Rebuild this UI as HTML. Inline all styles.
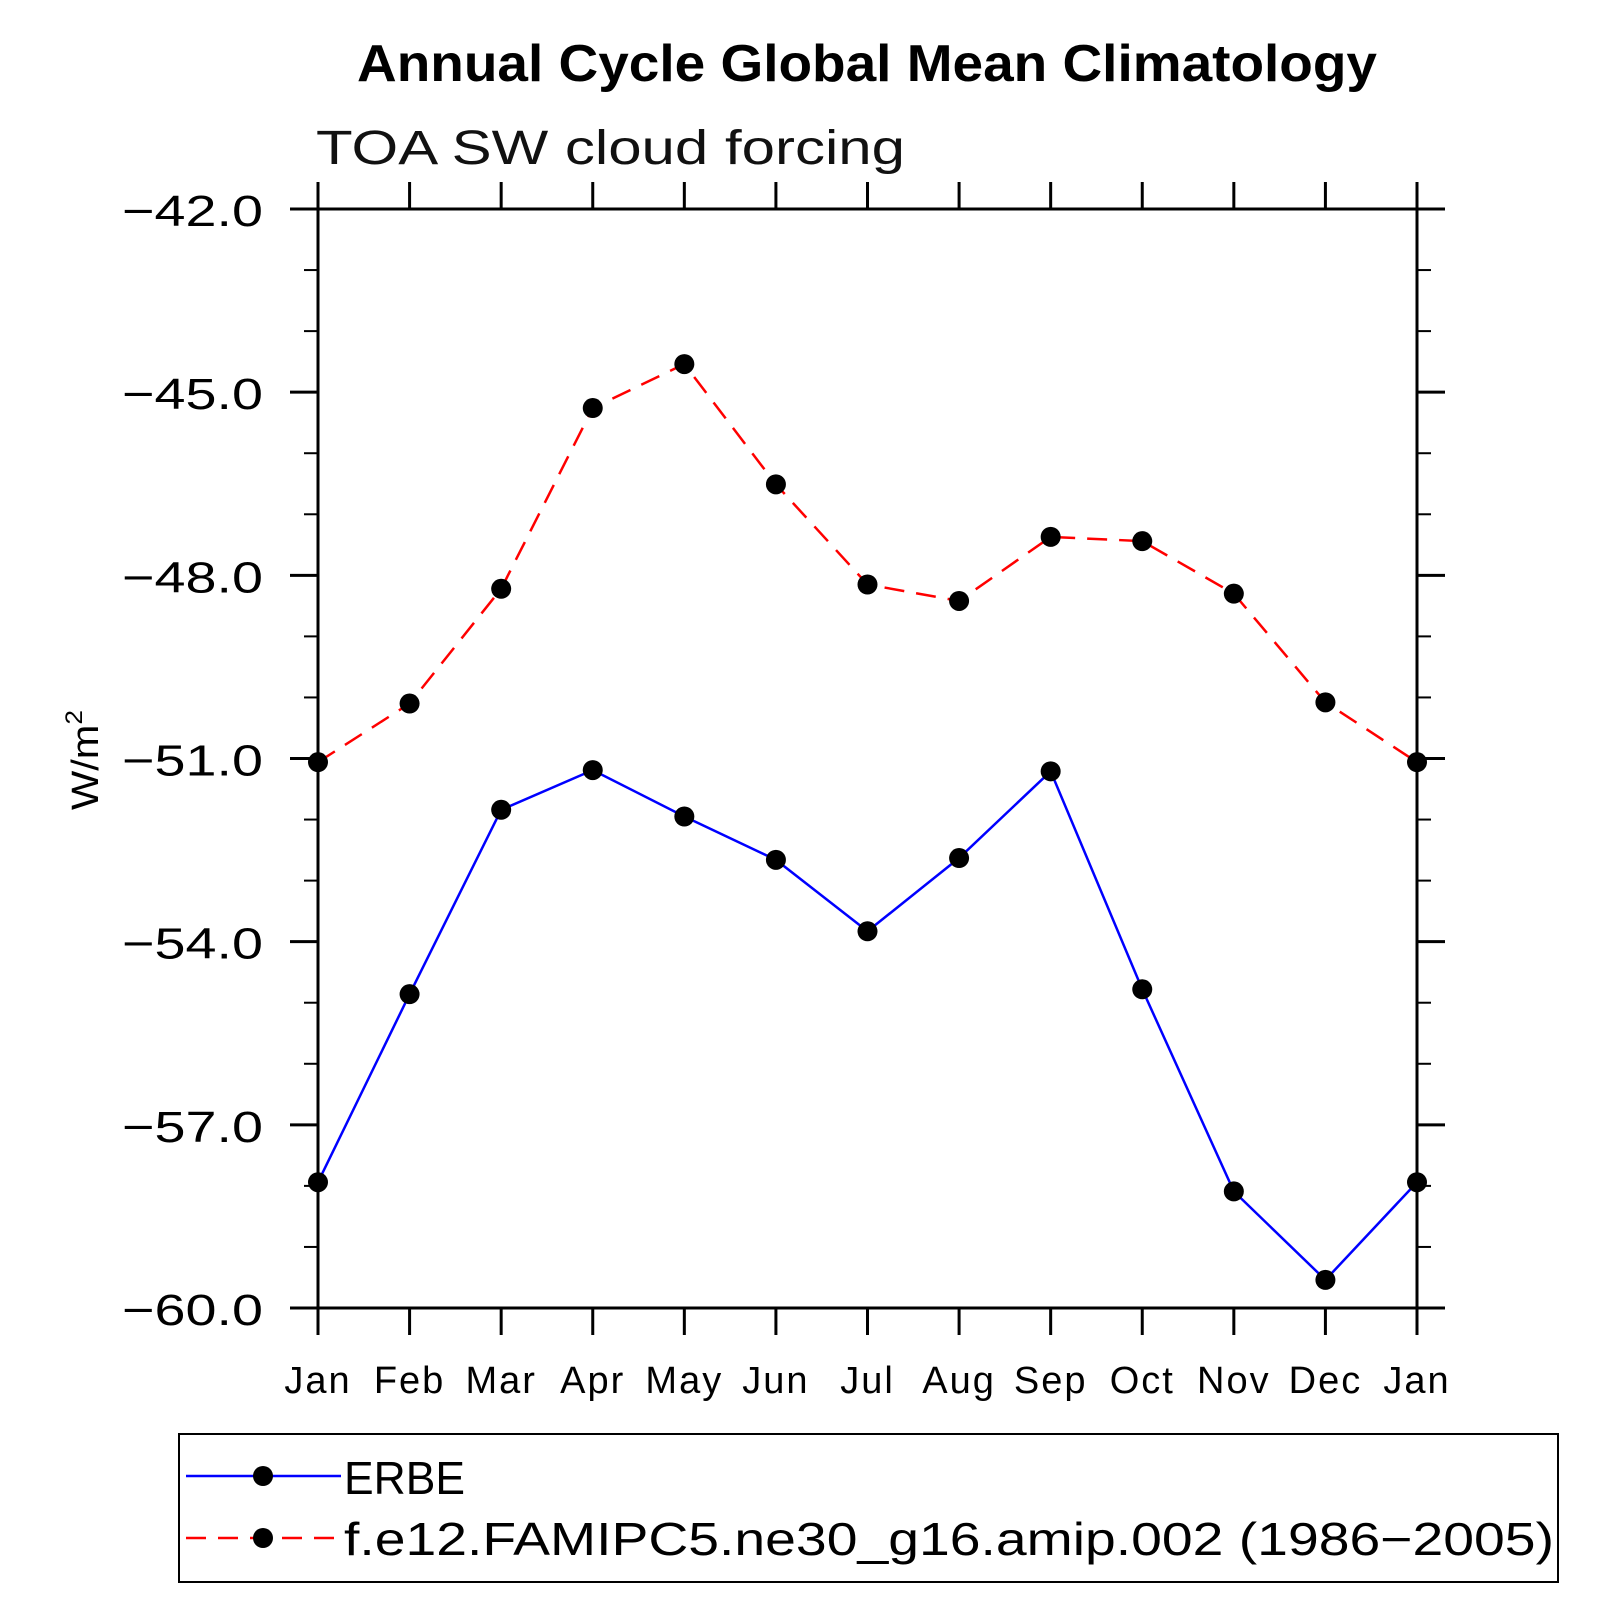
<!DOCTYPE html>
<html><head><meta charset="utf-8"><style>
html,body{margin:0;padding:0;background:#fff;}
svg{display:block;font-family:"Liberation Sans",sans-serif;}
</style></head><body>
<svg id="chart" width="1619" height="1619" viewBox="0 0 1619 1619">
<text x="357" y="81" textLength="1020" lengthAdjust="spacingAndGlyphs" font-size="52" font-weight="bold">Annual Cycle Global Mean Climatology</text>
<text x="316" y="164" textLength="589" lengthAdjust="spacingAndGlyphs" font-size="48" fill="#111">TOA SW cloud forcing</text>
<text transform="translate(98,760) rotate(-90)" text-anchor="middle" font-size="38" textLength="100" lengthAdjust="spacingAndGlyphs">W/m<tspan dy="-16" font-size="24">2</tspan></text>
<g id="axes"></g>
<g id="series"></g>
<rect x="179" y="1434" width="1379" height="148" fill="none" stroke="#000" stroke-width="2"/>
<g>
<line x1="186" y1="1476" x2="341" y2="1476" stroke="#0000ff" stroke-width="2.5"/>
<circle cx="263" cy="1476" r="10"/>
<text x="344" y="1494" font-size="46" textLength="121" lengthAdjust="spacingAndGlyphs">ERBE</text>
</g>
<g>
<line x1="186" y1="1538" x2="341" y2="1538" stroke="#ff0000" stroke-width="2.5" stroke-dasharray="20,12"/>
<circle cx="263" cy="1538" r="10"/>
<text x="344" y="1555" font-size="46" textLength="1210" lengthAdjust="spacingAndGlyphs">f.e12.FAMIPC5.ne30_g16.amip.002 (1986−2005)</text>
</g>
</svg>
<script>
const months = ["Jan","Feb","Mar","Apr","May","Jun","Jul","Aug","Sep","Oct","Nov","Dec","Jan"];
const yTicks = [-42,-45,-48,-51,-54,-57,-60];
const yTickLabels = ["−42.0","−45.0","−48.0","−51.0","−54.0","−57.0","−60.0"];
const erbe = [-57.94,-54.86,-51.84,-51.19,-51.95,-52.66,-53.83,-52.63,-51.21,-54.78,-58.09,-59.54,-57.94];
const model = [-51.06,-50.10,-48.22,-45.26,-44.54,-46.51,-48.15,-48.42,-47.37,-47.44,-48.30,-50.08,-51.06];
const NS="http://www.w3.org/2000/svg";
const L=318,R=1417,T=209,B=1308,yMin=-60,yMax=-42;
function xPos(i){return L+(R-L)*i/(months.length-1);}
function yPos(v){return B-(v-yMin)/(yMax-yMin)*(B-T);}
function mk(tag,attrs,parent){const e=document.createElementNS(NS,tag);for(const k in attrs)e.setAttribute(k,attrs[k]);parent.appendChild(e);return e;}
const ax=document.getElementById('axes');
const frame=mk('rect',{x:L,y:T,width:R-L,height:B-T,fill:'none',stroke:'#000','stroke-width':3},ax);


for(let v=yMin;v<=yMax;v+=1){
  const y=yPos(v);const major=(v%3===0);const len=major?28:14;
  mk('line',{x1:L-len,y1:y,x2:L,y2:y,stroke:'#000','stroke-width':major?3:2},ax);
  mk('line',{x1:R,y1:y,x2:R+len,y2:y,stroke:'#000','stroke-width':major?3:2},ax);
}
yTicks.forEach((v,i)=>{
  const t=mk('text',{x:263,y:yPos(v)+17,'text-anchor':'end','font-size':44,textLength:141,lengthAdjust:'spacingAndGlyphs'},ax);
  t.textContent=yTickLabels[i];
  
  
});
months.forEach((m,i)=>{
  const x=xPos(i);
  mk('line',{x1:x,y1:T-27,x2:x,y2:T,stroke:'#000','stroke-width':3},ax);
  mk('line',{x1:x,y1:B,x2:x,y2:B+27,stroke:'#000','stroke-width':3},ax);
  const t=mk('text',{x:x,y:1393,'text-anchor':'middle','font-size':38,'letter-spacing':2},ax);
  t.textContent=m;
  
  
});
const sg=document.getElementById('series');
function drawSeries(vals,color,dash,name){
  const pts=vals.map((v,i)=>xPos(i)+','+yPos(v)).join(' ');
  const pl=mk('polyline',{points:pts,fill:'none',stroke:color,'stroke-width':2.5},sg);
  if(dash)pl.setAttribute('stroke-dasharray',dash);
  
  
  vals.forEach((v,i)=>{
    const c=mk('circle',{cx:xPos(i),cy:yPos(v),r:10,fill:'#000'},sg);
    
    
  });
}
drawSeries(model,'#ff0000','20,12','model');
drawSeries(erbe,'#0000ff',null,'erbe');
</script>
</body></html>
